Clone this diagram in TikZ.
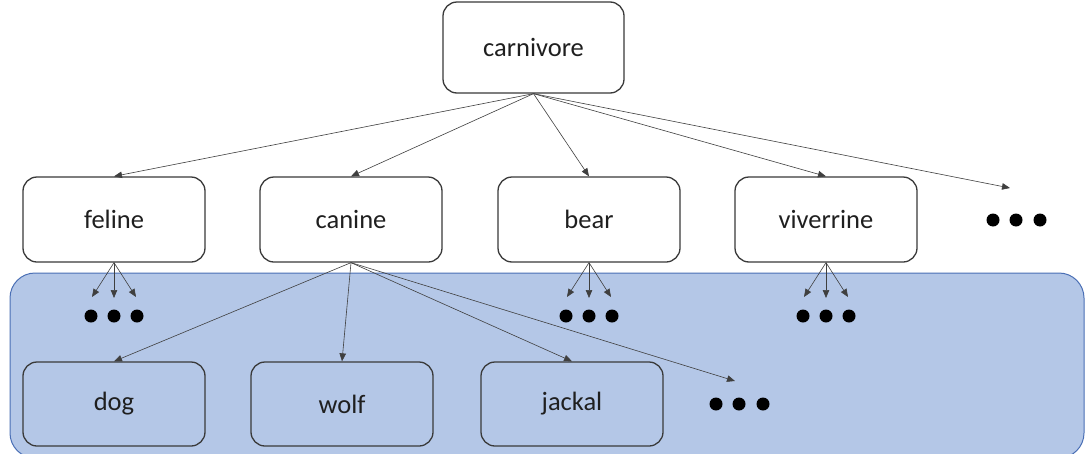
\documentclass[tikz,border=0pt]{standalone}
\usepackage{fontspec}
\setmainfont{Carlito}
\usetikzlibrary{arrows.meta}
\definecolor{boxline}{HTML}{3A3A3A}
\definecolor{groupfill}{HTML}{B4C7E7}
\definecolor{groupline}{HTML}{4A6FB5}
\definecolor{linkcol}{HTML}{3F3F3F}
\tikzset{
  taxon/.style={draw=boxline, line width=1.3pt, rounded corners=14pt,
    minimum width=182pt, minimum height=85pt, inner sep=0pt,
    font=\fontsize{26.5}{30}\selectfont, text=black!88},
  blob/.style={circle, fill=black, inner sep=0pt, minimum size=13pt},
  link/.style={draw=linkcol, line width=0.6pt, -{Triangle[length=8pt,width=6.5pt]}},
}
\begin{document}
\begin{tikzpicture}[x=1pt,y=-1pt]
\clip (0,0) rectangle (1085,453);
\fill[white] (0,0) rectangle (1085,453);
% shaded group behind the lower levels
\draw[groupline, fill=groupfill, line width=1pt, rounded corners=25pt]
  (10,273) rectangle (1084,458);

% top level
\node[taxon, minimum width=181pt, minimum height=91pt] (carn) at (533.5,47.5) {carnivore};

% second level
\node[taxon] (feline) at (114,219.5) {feline};
\node[taxon] (canine) at (351,219.5) {canine};
\node[taxon] (bear) at (589,219.5) {bear};
\node[taxon] (viv) at (826,219.5) {viverrine};
\node[blob] (r1) at (993,220) {};
\node[blob] (r2) at (1016,220) {};
\node[blob] (r3) at (1040,220) {};
\coordinate (rend) at (1010,188);

% third level
\node[taxon, minimum height=84pt] (dog) at (114,404) {dog};
\node[taxon, minimum height=84pt] (wolf) at (342,404) {wolf};
\node[taxon, minimum height=84pt] (jackal) at (572,404) {jackal};
\node[blob] (c1) at (716,404) {};
\node[blob] (c2) at (739,404) {};
\node[blob] (c3) at (763,404) {};
\coordinate (cend) at (735,381);

% collapsed children under feline, bear and viverrine
\foreach \p/\x in {feline/114, bear/589, viv/826} {
  \node[blob] (\p-a) at (\x-23,316) {};
  \node[blob] (\p-b) at (\x,316) {};
  \node[blob] (\p-c) at (\x+23,316) {};
  \coordinate (\p-ea) at (\x-22,297);
  \coordinate (\p-eb) at (\x,298);
  \coordinate (\p-ec) at (\x+22,297);
  \draw[link] (\p.south) -- (\p-ea);
  \draw[link] (\p.south) -- (\p-eb);
  \draw[link] (\p.south) -- (\p-ec);
}

% edges from carnivore
\foreach \t in {feline, canine, bear, viv}
  \draw[link] (carn.south) -- (\t.north);
\draw[link] (carn.south) -- (rend);

% edges from canine
\foreach \t in {dog, wolf, jackal}
  \draw[link] (canine.south) -- (\t.north);
\draw[link] (canine.south) -- (cend);
\end{tikzpicture}
\end{document}
